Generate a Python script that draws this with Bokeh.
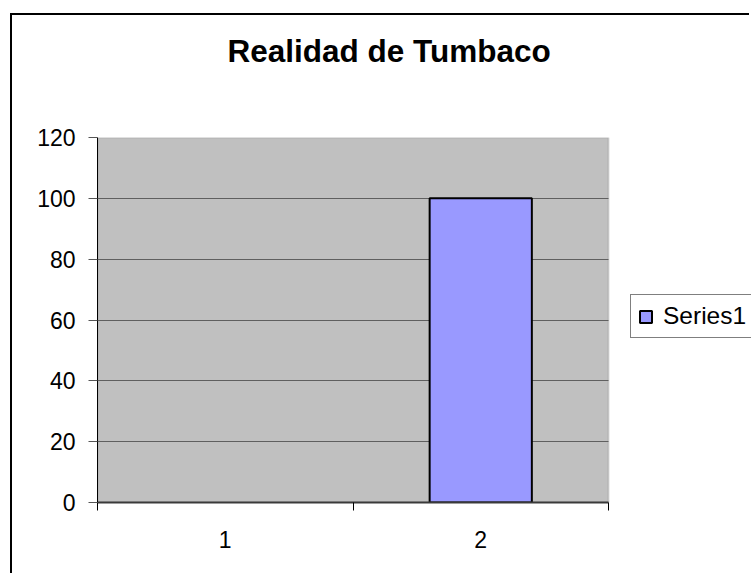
from bokeh.plotting import figure
from bokeh.models import (BoxAnnotation, ColumnDataSource, FixedTicker, Legend,
                          LegendItem, Range1d, Title)
from bokeh.embed import file_html
from bokeh.resources import INLINE

# ---- data ----
title_text = "Realidad de Tumbaco"
categories = ["1", "2"]
cat_pos = [1, 2]
values = [0, 100]
series_name = "Series1"
y_ticks = [0, 20, 40, 60, 80, 100, 120]
y_max = 120

src = ColumnDataSource(dict(x=cat_pos, top=values, label=categories,
                            la=[0 if v == 0 else 1 for v in values]))

# plot area spans categories 0.5..2.5; the canvas keeps room on the right for the legend
cat_lo, cat_hi = 0.5, len(categories) + 0.5
frame_px = 654          # frame width incl. legend room
area_px = 511           # gray plot-area width
x_end = cat_lo + (cat_hi - cat_lo) * frame_px / area_px

p = figure(width=739, height=560, output_backend="svg", toolbar_location=None,
           x_range=Range1d(cat_lo, x_end), y_range=Range1d(0, y_max),
           min_border_left=85, min_border_top=120, min_border_right=0,
           min_border_bottom=73, title=title_text)
p.margin = (13, 0, 0, 10)
p.styles = {"border-left": "2px solid #000000", "border-top": "2px solid #000000"}

p.background_fill_color = "#FFFFFF"
p.border_fill_color = "#FFFFFF"
p.outline_line_color = None

# gray plot area
area = BoxAnnotation(left=cat_lo, right=cat_hi, bottom=0, top=y_max,
                     fill_color="#C0C0C0", fill_alpha=1,
                     line_color="#8C8C8C", line_width=2, level="image")
p.add_layout(area)

# title
p.title.align = "left"
p.title.offset = 130
p.title.vertical_align = "top"
p.title.standoff = 34
p.title.text_font = "Liberation Sans"
p.title.text_font_size = "31.5px"
p.title.text_font_style = "bold"
p.title.text_color = "#000000"
# blank spacer between title and plot area
p.add_layout(Title(text=" ", text_font_size="10px", standoff=37), "above")

r = p.vbar(x="x", top="top", width=0.4, bottom=0, source=src,
           fill_color="#9999FF", line_color="#000000", line_width=2,
           line_alpha="la")

# grid
p.xgrid.visible = False
yg = p.ygrid[0]
yg.ticker = FixedTicker(ticks=y_ticks)
yg.grid_line_color = "#5F5F5F"
yg.grid_line_width = 1
yg.level = "underlay"
yg.cross_bounds = (cat_lo, cat_hi)

# y axis
ya = p.yaxis[0]
ya.ticker = FixedTicker(ticks=y_ticks)
ya.axis_line_color = "#000000"
ya.axis_line_width = 1
ya.major_tick_in = 0
ya.major_tick_out = 9
ya.major_tick_line_color = "#555555"
ya.minor_tick_line_color = None
ya.major_label_standoff = 13
ya.major_label_text_font = "Liberation Sans"
ya.major_label_text_font_size = "23px"
ya.major_label_text_color = "#000000"

# x axis
xa = p.xaxis[0]
xa.bounds = (cat_lo, cat_hi)
xa.ticker = FixedTicker(ticks=cat_pos, minor_ticks=[cat_lo, 1.5, cat_hi])
xa.major_label_overrides = {c: l for c, l in zip(cat_pos, categories)}
xa.axis_line_color = "#3A3A3A"
xa.axis_line_width = 2
xa.major_tick_in = 0
xa.major_tick_out = 0
xa.minor_tick_in = 0
xa.minor_tick_out = 8
xa.minor_tick_line_color = "#000000"
xa.major_label_standoff = 20
xa.major_label_text_font = "Liberation Sans"
xa.major_label_text_font_size = "23px"
xa.major_label_text_color = "#000000"

legend = Legend(items=[LegendItem(label=series_name, renderers=[r], index=1)],
                location=(533, 164))
legend.border_line_color = "#000000"
legend.border_line_width = 1
legend.background_fill_color = "#FFFFFF"
legend.background_fill_alpha = 1
legend.label_text_font = "Liberation Sans"
legend.label_text_font_size = "24.5px"
legend.label_text_color = "#000000"
legend.label_width = 95
legend.glyph_width = 15
legend.glyph_height = 15
legend.padding = 7
legend.margin = 0
legend.label_standoff = 10
p.add_layout(legend)

open("out.html", "w").write(file_html(p, INLINE))
